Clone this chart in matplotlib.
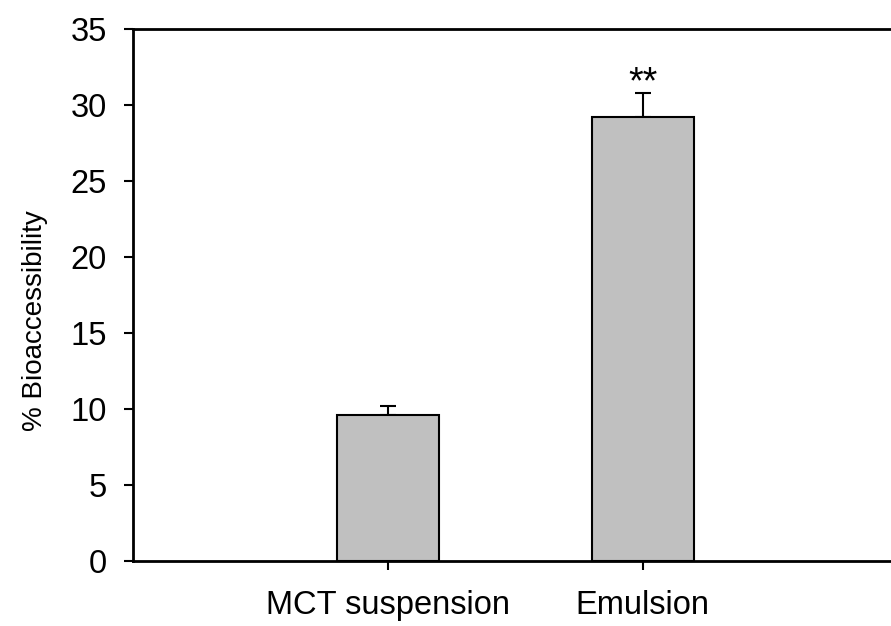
import matplotlib
matplotlib.use('Agg')
import matplotlib.pyplot as plt

# Bar data
categories = ['MCT suspension', 'Emulsion']
bioaccessibility = [9.65, 29.25]
errors = [0.6, 1.55]
significance = ['', '**']

plt.rcParams['font.family'] = ['Liberation Sans', 'DejaVu Sans']

fig = plt.figure(figsize=(8.91, 6.26), dpi=100)
ax = fig.add_axes([132.7 / 891, 1 - 561.3 / 626, 765 / 891, 532 / 626])

positions = [1, 2]
ax.bar(positions, bioaccessibility, width=0.4, color='#c0c0c0', edgecolor='black', linewidth=1.5, zorder=2)
ax.errorbar(positions, bioaccessibility, yerr=[[0, 0], errors], fmt='none', ecolor='black',
            elinewidth=1.5, capsize=6, capthick=1.5, zorder=1)

# significance marks above the error bars
for x, y, e, s in zip(positions, bioaccessibility, errors, significance):
    if s:
        ax.text(x, 32.6, s, ha='center', va='top', fontsize=27)

ax.set_xlim(0, 3)
ax.set_ylim(0, 35)
ax.set_yticks(range(0, 36, 5))
ax.set_xticks(positions)
ax.set_xticklabels(categories)
ax.tick_params(axis='both', direction='out', length=6.5, width=1.5, labelsize=23.5)
ax.tick_params(axis='y', pad=12)
ax.tick_params(axis='x', pad=14)
ax.set_ylabel('% Bioaccessibility', fontsize=20)
ax.yaxis.set_label_coords(-0.111, 0.452)

for sp in ax.spines.values():
    sp.set_linewidth(2)

fig.savefig('out.png', dpi=100)
